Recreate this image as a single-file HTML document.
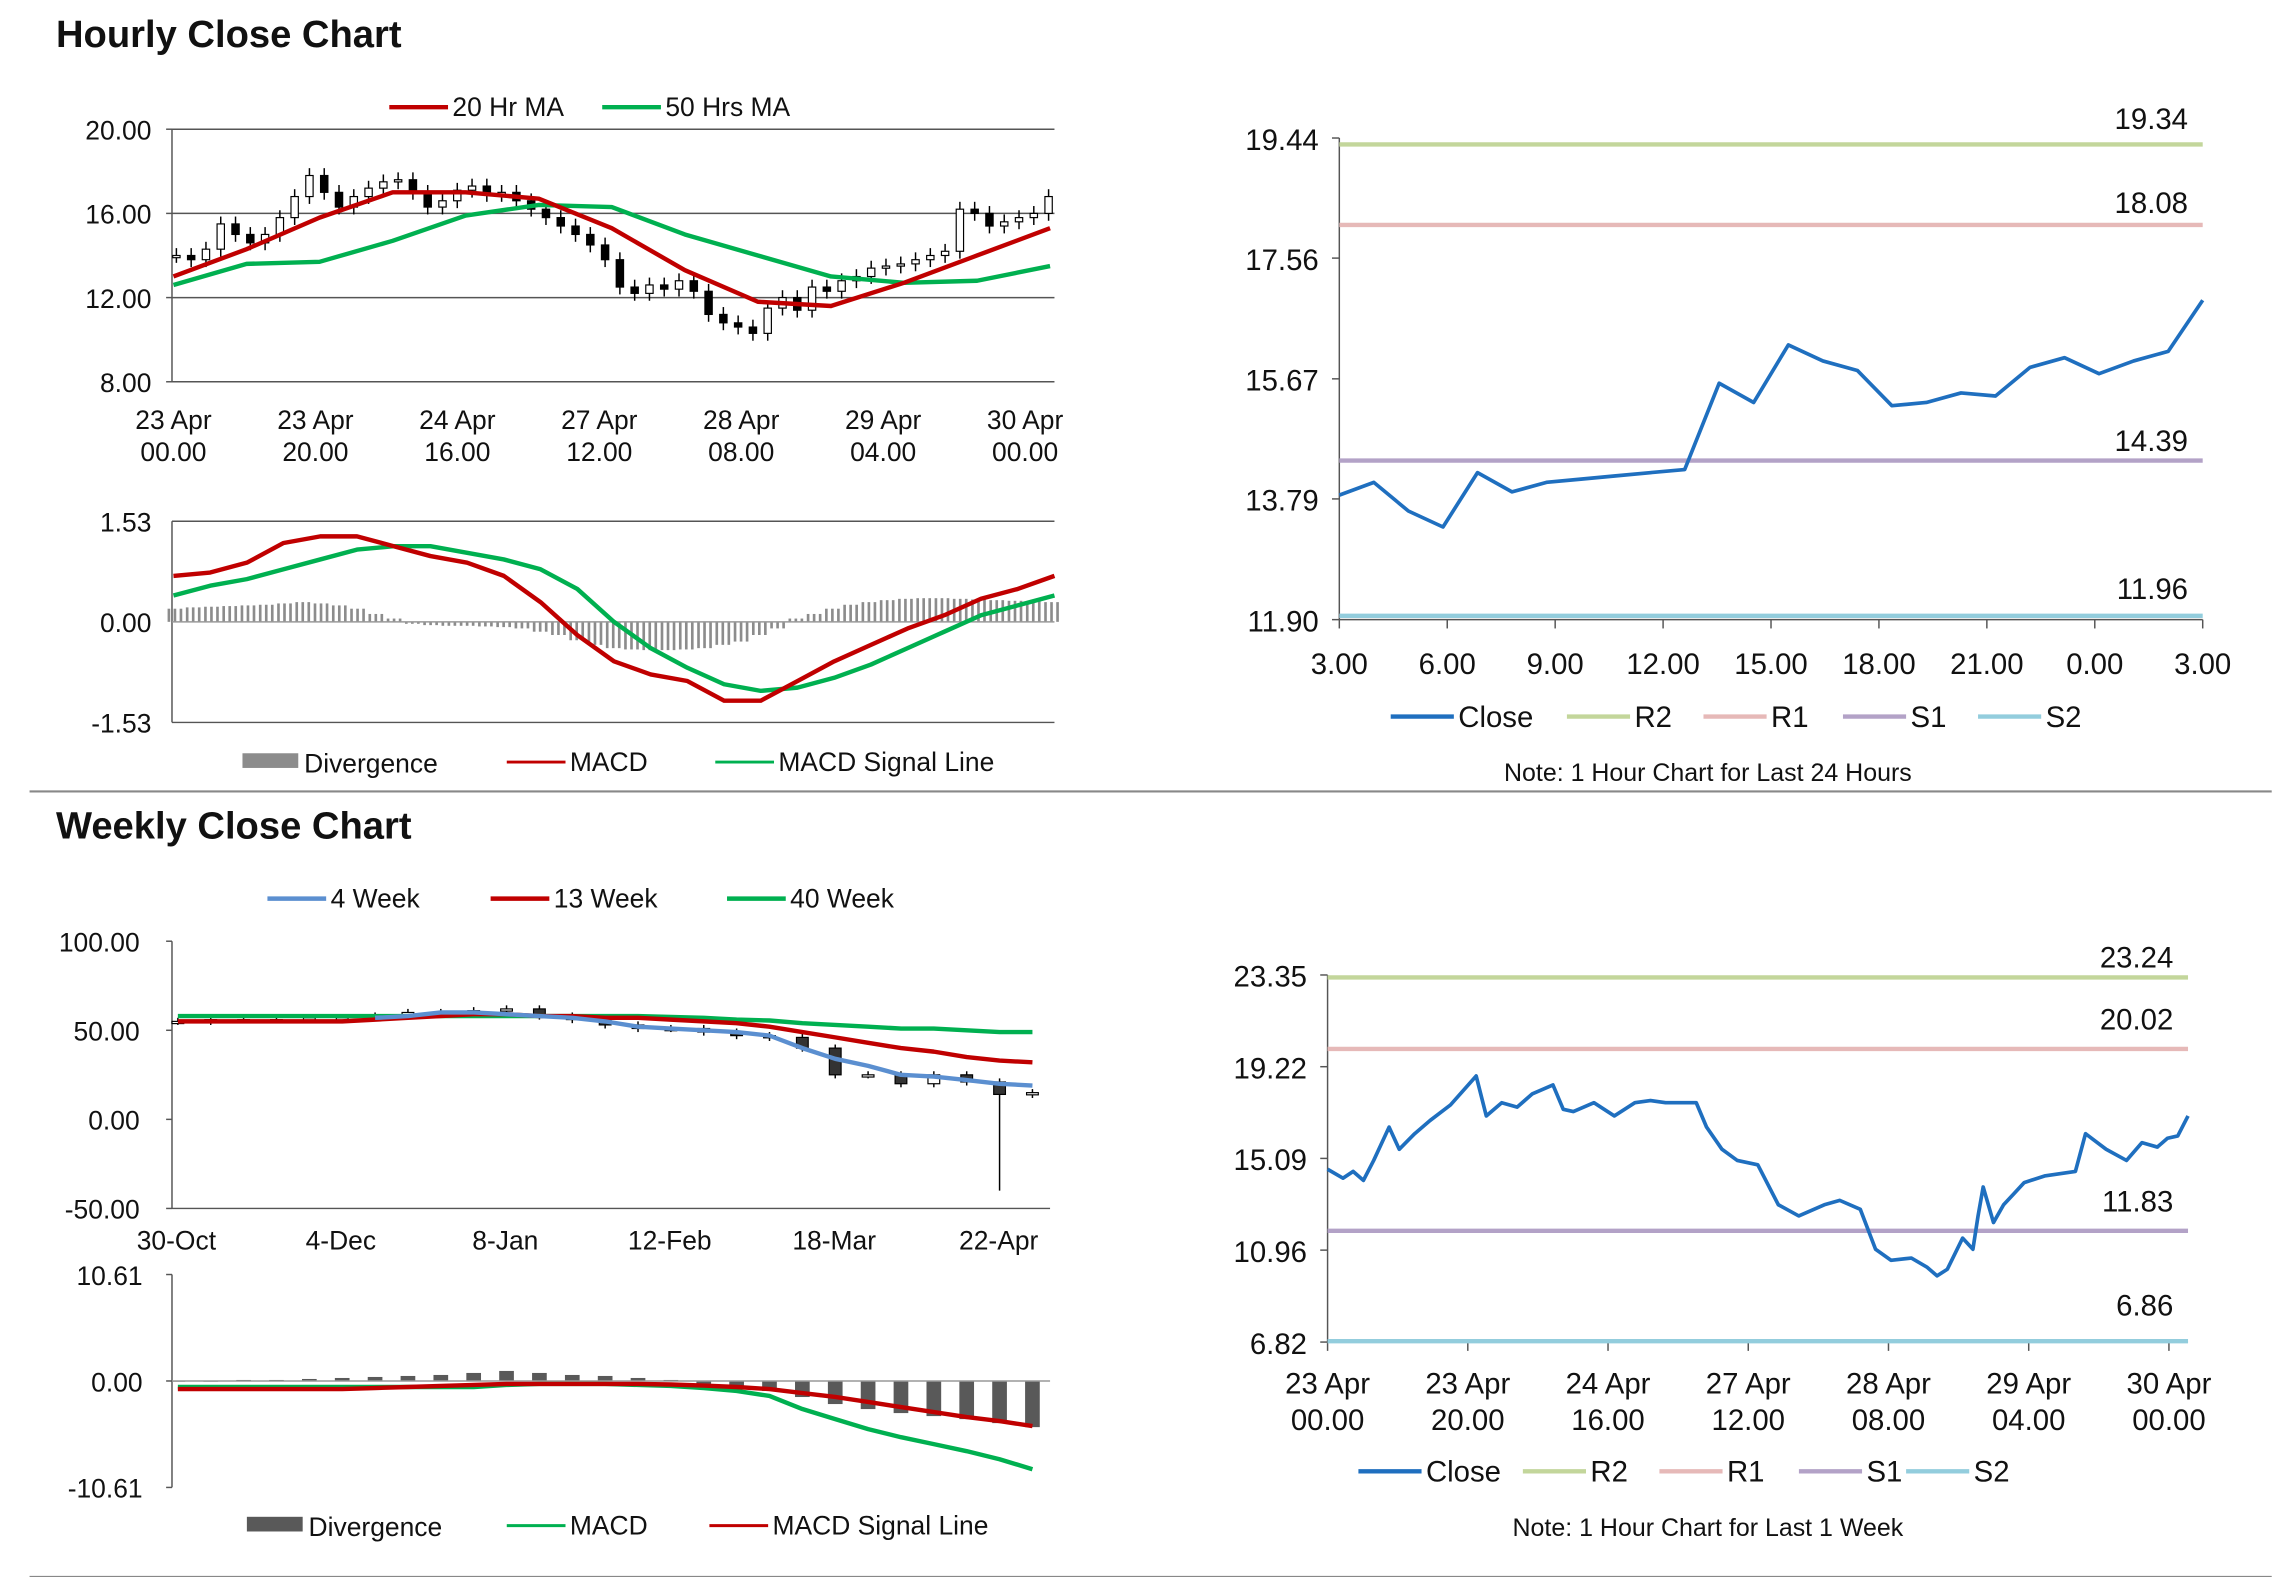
<!DOCTYPE html>
<html><head><meta charset="utf-8">
<style>
html,body{margin:0;padding:0;background:#fff}
svg{display:block}
text{font-family:"Liberation Sans Narrow","Liberation Sans",sans-serif;fill:#111}
.title{font-family:"Liberation Sans",sans-serif;font-weight:bold;font-size:26px}
</style></head>
<body>
<svg id="s" width="2291" height="1577" viewBox="0 0 1560 1074" xmlns="http://www.w3.org/2000/svg">
<text class="title" x="38" y="32">Hourly Close Chart</text>
<text class="title" x="38" y="571">Weekly Close Chart</text>
<line x1="20" y1="539" x2="1547" y2="539" stroke="#888" stroke-width="1.5"/>
<line x1="20" y1="1074" x2="1547" y2="1074" stroke="#888" stroke-width="1.5"/>
</svg>
<script>
// ---------- DATA ----------
const hourlyXLabels1=["23 Apr","23 Apr","24 Apr","27 Apr","28 Apr","29 Apr","30 Apr"];
const hourlyXLabels2=["00.00","20.00","16.00","12.00","08.00","04.00","00.00"];
const hourlyYTicks=[20,16,12,8];
const hourlyClose=[14.0,13.8,14.3,15.5,15.0,14.6,15.0,15.8,16.8,17.8,17.0,16.3,16.8,17.2,17.5,17.6,17.0,16.3,16.6,17.1,17.3,16.9,17.0,16.6,16.2,15.8,15.4,15.0,14.5,13.8,12.5,12.2,12.6,12.4,12.8,12.3,11.2,10.8,10.6,10.3,11.5,12.0,11.4,12.5,12.3,12.8,13.0,13.4,13.5,13.6,13.8,14.0,14.2,16.2,16.0,15.4,15.6,15.8,16.0,16.8];
const ma20=[13.0,14.3,15.8,17.0,17.0,16.7,15.3,13.3,11.8,11.6,12.7,14.0,15.3];
const ma50=[12.6,13.6,13.7,14.7,15.9,16.4,16.3,15.0,14.0,13.0,12.7,12.8,13.5];
const hMacd=[.7,.75,.9,1.2,1.3,1.3,1.15,1.0,.9,.7,.3,-.2,-.6,-.8,-.9,-1.2,-1.2,-.9,-.6,-.35,-.1,.1,.35,.5,.7];
const hSignal=[.4,.55,.65,.8,.95,1.1,1.15,1.15,1.05,.95,.8,.5,0,-.4,-.7,-.95,-1.05,-1.0,-.85,-.65,-.4,-.15,.1,.25,.4];
const hDiv=[.2,.22,.23,.24,.25,.26,.28,.3,.28,.25,.2,.12,.05,-.03,-.05,-.06,-.06,-.07,-.08,-.1,-.15,-.2,-.28,-.35,-.4,-.42,-.43,-.43,-.42,-.4,-.35,-.3,-.2,-.1,.05,.12,.2,.26,.3,.33,.35,.36,.36,.35,.34,.33,.32,.31,.3];
const dayXLabels=["3.00","6.00","9.00","12.00","15.00","18.00","21.00","0.00","3.00"];
const dayYTicks=[19.44,17.56,15.67,13.79,11.90];
const dayClose=[13.85,14.05,13.6,13.35,14.2,13.9,14.05,14.1,14.15,14.2,14.25,15.6,15.3,16.2,15.95,15.8,15.25,15.3,15.45,15.4,15.85,16.0,15.75,15.95,16.1,16.9];
const dayLevels=[19.34,18.08,14.39,11.96];
const weekXLabels=["30-Oct","4-Dec","8-Jan","12-Feb","18-Mar","22-Apr"];
const weekYTicks=[100,50,0,-50];
const weekClose=[55,56,56,56,57,57,58,60,60,61,62,58,56,53,51,51,49,47,46,40,25,25,20,25,21,14,15];
const weekLowOverride={25:-40};
const wk4=[null,null,null,null,null,null,57,58,60,60,59,58,57,55,52,51,50,49,47,40,34,30,25,24,22,20,19];
const wk13=[55,55,55,55,55,55,56,57,58,59,59,58,58,57,57,56,55,54,52,49,46,43,40,38,35,33,32];
const wk40=[58,58,58,58,58,58,58,58,58,58,58,58,58,58,58,57.5,57,56,55.5,54,53,52,51,51,50,49,49];
const wMacd=[-.6,-.6,-.6,-.6,-.6,-.6,-.6,-.6,-.6,-.6,-.4,-.3,-.3,-.3,-.4,-.5,-.7,-1.0,-1.5,-2.8,-3.8,-4.8,-5.6,-6.3,-7.0,-7.8,-8.8];
const wSignal=[-.8,-.8,-.8,-.8,-.8,-.8,-.7,-.6,-.5,-.4,-.3,-.3,-.3,-.3,-.3,-.35,-.45,-.6,-.8,-1.2,-1.6,-2.1,-2.6,-3.1,-3.6,-4.0,-4.5];
const wDiv=[0,0,.1,.1,.2,.3,.4,.5,.6,.8,1.0,.8,.6,.5,.3,.1,-.3,-.6,-1.0,-1.6,-2.3,-2.8,-3.2,-3.5,-3.8,-4.2,-4.6];
const wk2YTicks=[10.61,0.00,-10.61];
const wkHours=[0,3,5,7,9,12,14,17,20,24,29,31,34,37,40,44,46,48,52,56,60,63,66,69,72,74,77,80,84,88,92,97,100,104,107,110,114,117,119,121,124,126,127,128,130,132,134,136,140,146,148,152,156,159,162,164,166,168];
const wkClose=[14.6,14.2,14.5,14.1,15.0,16.5,15.5,16.2,16.8,17.5,18.8,17.0,17.6,17.4,18.0,18.4,17.3,17.2,17.6,17.0,17.6,17.7,17.6,17.6,17.6,16.5,15.5,15.0,14.8,13.0,12.5,13.0,13.2,12.8,11.0,10.5,10.6,10.2,9.8,10.1,11.5,11.0,12.5,13.8,12.2,13.0,13.5,14.0,14.3,14.5,16.2,15.5,15.0,15.8,15.6,16.0,16.1,17.0];
const wkXLabels1=["23 Apr","23 Apr","24 Apr","27 Apr","28 Apr","29 Apr","30 Apr"];
const wkXLabels2=["00.00","20.00","16.00","12.00","08.00","04.00","00.00"];
const wkYTicks=[23.35,19.22,15.09,10.96,6.82];
const wkLevels=[23.24,20.02,11.83,6.86];

// ---------- HELPERS ----------
const S=document.getElementById('s');const NS='http://www.w3.org/2000/svg';
function mk(tag,attrs,parent){const e=document.createElementNS(NS,tag);for(const k in attrs)e.setAttribute(k,attrs[k]);(parent||S).appendChild(e);return e;}
function txt(x,y,s,size,anchor,name){const t=mk('text',{x:x,y:y,'font-size':size,'text-anchor':anchor||'start'});t.textContent=s;


return t;}
function lin(x1,y1,x2,y2,col,w,name){const l=mk('line',{x1:x1,y1:y1,x2:x2,y2:y2,stroke:col,'stroke-width':w});


return l;}
function scale(d0,d1,r0,r1){return v=>r0+(v-d0)/(d1-d0)*(r1-r0);}
function poly(xs,ys,col,w,name){let p='';for(let i=0;i<xs.length;i++){if(ys[i]==null)continue;p+=(p?' L':'M')+xs[i].toFixed(1)+' '+ys[i].toFixed(1);}
const e=mk('path',{d:p,fill:'none',stroke:col,'stroke-width':w,'stroke-linejoin':'round'});


return e;}
const RED='#c00000',GREEN='#00b050',BLUE='#1f6fbf',WBLUE='#5b8fd0';
const LG='#c3d69b',LP='#e6b9b8',LV='#b3a2c7',LC='#93cddd';
const FS=18,FL=20;
function legLine(x,y,col,label,name,w){lin(x,y,x+40,y,col,w||3,name+'-swatch');txt(x+43,y+6,label,FS,'start',name+'-label');}

// ---------- PANEL 1 ----------
(function(){const X0=117,X1=718,y=scale(8,20,260,88);
lin(X0,88,X0,260,'#555',1,'p1-y-axis');lin(X0,260,X1,260,'#555',1,'p1-x-axis');
hourlyYTicks.forEach(v=>{if(v!==8&&v!==20)lin(X0,y(v),X1,y(v),'#555',1,'p1-gridline');lin(X0-4,y(v),X0,y(v),'#555',1,'p1-y-tick');txt(X0-14,y(v)+7,v.toFixed(2),FS,'end','p1-y-label');});
lin(X0,88,X1,88,'#555',1,'p1-top-border');
const xl=scale(0,6,118,698);
hourlyXLabels1.forEach((s,i)=>{txt(xl(i),y(8)+32,s,FS,'middle','p1-x-label');txt(xl(i),y(8)+54,hourlyXLabels2[i],FS,'middle','p1-x-label-time');});
const xc=scale(0,hourlyClose.length-1,120,714);
hourlyClose.forEach((c,i)=>{const o=i?hourlyClose[i-1]:c;const hi=Math.max(o,c)+0.35,lo=Math.min(o,c)-0.35;
lin(xc(i),y(hi),xc(i),y(lo),'#000',1,'p1-candle-wick');
const r=mk('rect',{x:xc(i)-2.5,y:y(Math.max(o,c)),width:5,height:Math.max(1.5,Math.abs(y(o)-y(c))),fill:c>=o?'#fff':'#000',stroke:'#000','stroke-width':0.8});

});
const xm=scale(0,ma20.length-1,118,715);
poly(ma50.map((_,i)=>xm(i)),ma50.map(y),GREEN,3,'p1-ma50-line');
poly(ma20.map((_,i)=>xm(i)),ma20.map(y),RED,3,'p1-ma20-line');
legLine(265,73,RED,'20 Hr MA','p1-legend-ma20');legLine(410,73,GREEN,'50 Hrs MA','p1-legend-ma50');
})();

// ---------- PANEL 2 ----------
(function(){const X0=117,X1=718,y=scale(-1.53,1.53,492,355);
lin(X0,355,X0,492,'#555',1,'p2-y-axis');lin(X0,355,X1,355,'#555',1,'p2-top');lin(X0,492,X1,492,'#555',1,'p2-bottom');
[1.53,0,-1.53].forEach(v=>txt(X0-14,y(v)+7,v.toFixed(2),FS,'end','p2-y-label'));
const xd=scale(0,hDiv.length-1,119,716);
hDiv.forEach((v,i)=>{for(let k=0;k<3;k++){const xx=xd(i)+(k-1)*4.1;lin(xx,y(0),xx,y(v),'#8c8c8c',1.8,'p2-divergence-bar');}});
lin(X0,y(0),X1,y(0),'#999',1,'p2-zero-line');
const xm=scale(0,hMacd.length-1,118,718);
poly(hSignal.map((_,i)=>xm(i)),hSignal.map(y),GREEN,3,'p2-signal-line');
poly(hMacd.map((_,i)=>xm(i)),hMacd.map(y),RED,3,'p2-macd-line');
const r=mk('rect',{x:165,y:513,width:38,height:10,fill:'#8c8c8c'});
txt(207,526,'Divergence',FS,'start','p2-legend-divergence-label');
legLine(345,519,RED,'MACD','p2-legend-macd',2);legLine(487,519,GREEN,'MACD Signal Line','p2-legend-signal',2);
})();

// ---------- PANEL 3/6 ----------
function levelPanel(p,xs,vals,yt,levels,labY,X0,X1,Y0,Y1,xlab1,xlab2,xTickX,legX,note,noteY,legY){
const y=scale(yt[yt.length-1],yt[0],Y1,Y0);
lin(X0,Y0,X0,Y1,'#555',1,p+'-y-axis');lin(X0,Y1,X1,Y1,'#555',1,p+'-x-axis');
yt.forEach(v=>{lin(X0-5,y(v),X0,y(v),'#555',1,p+'-y-tick');txt(X0-14,y(v)+8,v.toFixed(2),FL,'end',p+'-y-label');});
xTickX.forEach((xx,i)=>{lin(xx,Y1,xx,Y1+6,'#555',1,p+'-x-tick');
if(xlab2){txt(xx,Y1+35,xlab1[i],FL,'middle',p+'-x-label');txt(xx,Y1+60,xlab2[i],FL,'middle',p+'-x-label-time');}
else txt(xx,Y1+37,xlab1[i],FL,'middle',p+'-x-label');});
const cols=[LG,LP,LV,LC],names=['r2','r1','s1','s2'];
levels.forEach((v,i)=>{lin(X0,y(v),X1,y(v),cols[i],3,p+'-'+names[i]+'-line');txt(X1-10,labY[i],v.toFixed(2),FL,'end',p+'-'+names[i]+'-value');});
poly(xs,vals.map(y),BLUE,2.5,p+'-close-line');
const lab=['Close','R2','R1','S1','S2'],lc=[BLUE,LG,LP,LV,LC];
lab.forEach((s,i)=>{lin(legX[i],legY,legX[i]+43,legY,lc[i],3,p+'-legend-'+s.toLowerCase()+'-swatch');txt(legX[i]+46,legY+7,s,FL,'start',p+'-legend-'+s.toLowerCase()+'-label');});
txt(1163,noteY,note,17,'middle',p+'-note');}
(function(){const xs=scale(0,dayClose.length-1,912,1500);
levelPanel('p3',dayClose.map((_,i)=>xs(i)),dayClose,dayYTicks,dayLevels,[88,145,307,408],912,1500,94,422,dayXLabels,null,
dayXLabels.map((_,i)=>912+i*73.5),[947,1067,1160,1255,1347],'Note: 1 Hour Chart for Last 24 Hours',532,488);})();
(function(){const xs=scale(0,168,904,1490);
levelPanel('p6',wkHours.map(xs),wkClose,wkYTicks,wkLevels,[659,701,825,896],904,1490,664,914,wkXLabels1,wkXLabels2,
wkXLabels1.map((_,i)=>904+i*95.5),[925,1037,1130,1225,1298],'Note: 1 Hour Chart for Last 1 Week',1046,1002);})();

// ---------- PANEL 4 ----------
(function(){const X0=117,X1=715,y=scale(-50,100,823,641);
lin(X0,641,X0,823,'#555',1,'p4-y-axis');lin(X0,823,X1,823,'#555',1,'p4-x-axis');
weekYTicks.forEach(v=>{lin(X0-4,y(v),X0,y(v),'#555',1,'p4-y-tick');txt(X0-22,y(v)+7,v.toFixed(2),FS,'end','p4-y-label');});
weekXLabels.forEach((s,i)=>txt(120+i*112,y(-50)+28,s,FS,'middle','p4-x-label'));
const xw=scale(0,26,121,703);
weekClose.forEach((c,i)=>{const o=i?weekClose[i-1]:c;const hi=Math.max(o,c)+2;const lo=weekLowOverride[i]!==undefined?weekLowOverride[i]:Math.min(o,c)-2;
lin(xw(i),y(hi),xw(i),y(lo),'#000',1,'p4-candle-wick');
const r=mk('rect',{x:xw(i)-4,y:y(Math.max(o,c)),width:8,height:Math.max(1.5,Math.abs(y(o)-y(c))),fill:c>=o?'#fff':'#333',stroke:'#000','stroke-width':0.8});

});
const idx=wk13.map((_,i)=>xw(i));
poly(idx,wk40.map(y),GREEN,3,'p4-40week-line');
poly(idx,wk13.map(y),RED,3,'p4-13week-line');
poly(idx,wk4.map(v=>v==null?null:y(v)),WBLUE,3,'p4-4week-line');
legLine(182,612,WBLUE,'4 Week','p4-legend-4week');legLine(334,612,RED,'13 Week','p4-legend-13week');legLine(495,612,GREEN,'40 Week','p4-legend-40week');
})();

// ---------- PANEL 5 ----------
(function(){const X0=117,X1=715,y=scale(-10.61,10.61,1013,868);
lin(X0,868,X0,1013,'#555',1,'p5-y-axis');
wk2YTicks.forEach(v=>{lin(X0-4,y(v),X0,y(v),'#555',1,'p5-y-tick');txt(X0-20,y(v)+7,v.toFixed(2),FS,'end','p5-y-label');});
const xw=scale(0,26,121,703);
wDiv.forEach((v,i)=>{const r=mk('rect',{x:xw(i)-5,y:Math.min(y(0),y(v)),width:10,height:Math.max(0.5,Math.abs(y(v)-y(0))),fill:'#595959'});

});
lin(X0,y(0),X1,y(0),'#999',1,'p5-zero-line');
const idx=wMacd.map((_,i)=>xw(i));
poly(idx,wMacd.map(y),GREEN,3,'p5-macd-line');
poly(idx,wSignal.map(y),RED,3,'p5-signal-line');
const r=mk('rect',{x:168,y:1033,width:38,height:10,fill:'#595959'});
txt(210,1046,'Divergence',FS,'start','p5-legend-divergence-label');
legLine(345,1039,GREEN,'MACD','p5-legend-macd',2);legLine(483,1039,RED,'MACD Signal Line','p5-legend-signal',2);
})();
</script>
</body></html>
